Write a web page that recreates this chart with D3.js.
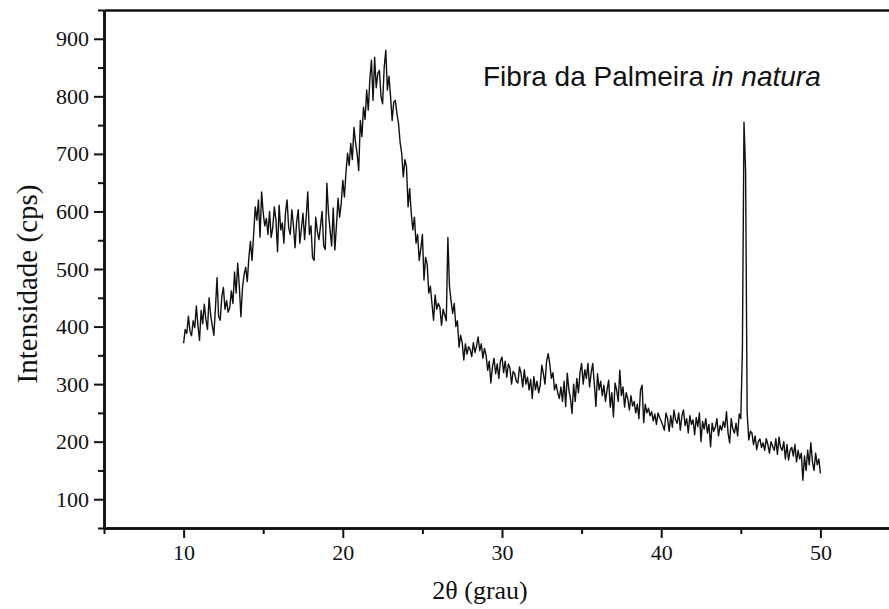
<!DOCTYPE html>
<html>
<head>
<meta charset="utf-8">
<script src="https://cdn.jsdelivr.net/npm/d3@7/dist/d3.min.js"></script>
<style>
  html, body { margin: 0; padding: 0; background: #fff; overflow: hidden; }
  svg { display: block; }
</style>
</head>
<body>
<svg id="chart" width="889" height="609"></svg>
<script>
// ---- data ----
const thetaStart = 10;      // first 2θ value (grau)
const thetaStep = 0.1;      // sampling step (grau)
const intensity = [
  // 10.0 - 10.9
  371, 395, 388, 418, 392, 384, 410, 398, 436, 402,
  // 11.0 - 11.9
  376, 428, 405, 439, 412, 395, 450, 420, 402, 385,
  // 12.0 - 12.9
  432, 485, 418, 411, 452, 468, 430, 445, 425, 433,
  // 13.0 - 13.9
  462, 440, 495, 458, 510, 470, 417, 468, 490, 503,
  // 14.0 - 14.9
  478, 520, 548, 515, 560, 608, 585, 620, 555, 634,
  // 15.0 - 15.9
  597, 575, 588, 560, 600, 555, 572, 608, 585, 530,
  // 16.0 - 16.9
  611, 568, 580, 545, 598, 620, 572, 560, 603, 575,
  // 17.0 - 17.9
  537, 582, 603, 545, 570, 597, 551, 590, 634, 560,
  // 18.0 - 18.9
  575, 520, 515, 590, 565, 551, 575, 600, 540, 534,
  // 19.0 - 19.9
  649, 597, 568, 540, 606, 533, 575, 623, 590, 614,
  // 20.0 - 20.9
  654, 625, 668, 701, 680, 718, 690, 746, 720, 700,
  // 21.0 - 21.9
  671, 758, 730, 781, 760, 811, 776, 830, 863, 793,
  // 22.0 - 22.9
  868, 815, 840, 845, 800, 787, 850, 880, 811, 835,
  // 23.0 - 23.9
  800, 758, 790, 793, 770, 753, 720, 701, 660, 690,
  // 24.0 - 24.9
  678, 608, 640, 597, 568, 590, 545, 560, 515, 535,
  // 25.0 - 25.9
  560, 481, 520, 509, 458, 470, 440, 411, 455, 430,
  // 26.0 - 26.9
  440, 433, 402, 430, 420, 410, 555, 470, 445, 423,
  // 27.0 - 27.9
  440, 400, 410, 364, 385, 372, 342, 370, 352, 365,
  // 28.0 - 28.9
  360, 348, 372, 355, 366, 382, 358, 370, 345, 362,
  // 29.0 - 29.9
  350, 324, 340, 302, 330, 345, 318, 335, 310, 340,
  // 30.0 - 30.9
  347, 320, 340, 312, 335, 328, 300, 322, 318, 305,
  // 31.0 - 31.9
  302, 330, 318, 295, 325, 300, 312, 290, 308, 275,
  // 32.0 - 32.9
  313, 290, 305, 285, 298, 333, 318, 300, 340, 353,
  // 33.0 - 33.9
  335, 310, 320, 290, 300, 285, 275, 295, 270, 305,
  // 34.0 - 34.9
  261, 319, 290, 275, 249, 300, 270, 310, 285, 320,
  // 35.0 - 35.9
  336, 300, 325, 310, 336, 295, 320, 336, 300, 261,
  // 36.0 - 36.9
  318, 290, 305, 280, 298, 270, 290, 307, 260, 285,
  // 37.0 - 37.9
  243, 302, 290, 270, 324, 280, 295, 260, 285, 275,
  // 38.0 - 38.9
  255, 280, 262, 270, 250, 265, 240, 290, 298, 233,
  // 39.0 - 39.9
  265, 250, 258, 245, 252, 236, 248, 230, 250, 242,
  // 40.0 - 40.9
  236, 228, 220, 250, 240, 218, 245, 225, 255, 238,
  // 41.0 - 41.9
  232, 250, 220, 245, 255, 228, 240, 215, 245, 230,
  // 42.0 - 42.9
  238, 212, 242, 226, 250, 200, 235, 222, 240, 215,
  // 43.0 - 43.9
  230, 191, 232, 218, 225, 240, 210, 228, 220, 235,
  // 44.0 - 44.9
  225, 252, 215, 198, 240, 222, 215, 232, 210, 248,
  // 45.0 - 45.9
  240, 360, 755, 672, 250, 203, 218, 215, 195, 210,
  // 46.0 - 46.9
  186, 200, 205, 190, 198, 185, 205, 195, 180, 200,
  // 47.0 - 47.9
  192, 185, 205, 178, 208, 190, 185, 200, 170, 195,
  // 48.0 - 48.9
  168, 185, 190, 175, 195, 165, 185, 170, 180, 133,
  // 49.0 - 49.9
  175, 150, 185, 160, 198, 165, 150, 180, 160, 170,
  // 50.0
  145
];
const xMajorTicks = [10, 20, 30, 40, 50];
const xMinorTicks = [5, 15, 25, 35, 45, 55];
const yMajorTicks = [100, 200, 300, 400, 500, 600, 700, 800, 900];
const yMinorTicks = [50, 150, 250, 350, 450, 550, 650, 750, 850, 950];
const xDomain = [5, 55];
const yDomain = [50, 950];
const xTitle = "2θ (grau)";
const yTitle = "Intensidade (cps)";
const titleMain = "Fibra da Palmeira ";
const titleItalic = "in natura";

// ---- drawing ----
const svg = d3.select("#chart");
const serif = "'Liberation Serif', 'Times New Roman', serif";
const sans = "'Liberation Sans', Arial, sans-serif";

const x = d3.scaleLinear().domain(xDomain).range([104, 900]);
const y = d3.scaleLinear().domain(yDomain).range([528, 10]);

const points = intensity.map((v, i) => ({ t: thetaStart + i * thetaStep, v }));

// data line
svg.append("path")
  .datum(points)
  .attr("fill", "none")
  .attr("stroke", "#111")
  .attr("stroke-width", 1.4)
  .attr("stroke-linejoin", "round")
  .attr("d", d3.line().x(d => x(d.t)).y(d => y(d.v)));

function styleAxis(g, w) {
  g.selectAll("path.domain").attr("stroke", "#111").attr("stroke-width", w);
  g.selectAll(".tick line").attr("stroke", "#111").attr("stroke-width", 2);
  g.selectAll(".tick text")
    .attr("fill", "#111")
    .style("font-family", serif)
    .style("font-size", "22px");
}

// bottom axis (minor, then major)
const gxMinor = svg.append("g").attr("transform", `translate(0,${y(yDomain[0])})`)
  .call(d3.axisBottom(x).tickValues(xMinorTicks).tickSize(6).tickSizeOuter(0).tickFormat(""));
styleAxis(gxMinor, 2.5);
const gx = svg.append("g").attr("transform", `translate(0,${y(yDomain[0])})`)
  .call(d3.axisBottom(x).tickValues(xMajorTicks).tickSize(10).tickSizeOuter(0).tickPadding(6).tickFormat(d3.format("d")));
styleAxis(gx, 2.5);

// left axis
const gyMinor = svg.append("g").attr("transform", `translate(${x(xDomain[0])},0)`)
  .call(d3.axisLeft(y).tickValues(yMinorTicks).tickSize(6).tickSizeOuter(0).tickFormat(""));
styleAxis(gyMinor, 2.5);
const gy = svg.append("g").attr("transform", `translate(${x(xDomain[0])},0)`)
  .call(d3.axisLeft(y).tickValues(yMajorTicks).tickSize(10).tickSizeOuter(0).tickPadding(5).tickFormat(d3.format("d")));
styleAxis(gy, 2.5);

// top frame line
const gTop = svg.append("g").attr("transform", `translate(0,${y(yDomain[1])})`)
  .call(d3.axisTop(x).tickValues([]).tickSizeOuter(0));
styleAxis(gTop, 2.5);

// axis titles
svg.append("text")
  .attr("x", 480).attr("y", 599)
  .attr("text-anchor", "middle")
  .style("font-family", serif).style("font-size", "26px").attr("fill", "#111")
  .text(xTitle);

svg.append("text")
  .attr("transform", `translate(37,284) rotate(-90)`)
  .attr("text-anchor", "middle")
  .style("font-family", serif).style("font-size", "29px").attr("fill", "#111")
  .text(yTitle);

// in-plot title
const t = svg.append("text")
  .attr("x", 483).attr("y", 86)
  .style("font-family", sans).style("font-size", "28px").attr("fill", "#111");
t.append("tspan").text(titleMain);
t.append("tspan").style("font-style", "italic").text(titleItalic);
</script>
</body>
</html>
